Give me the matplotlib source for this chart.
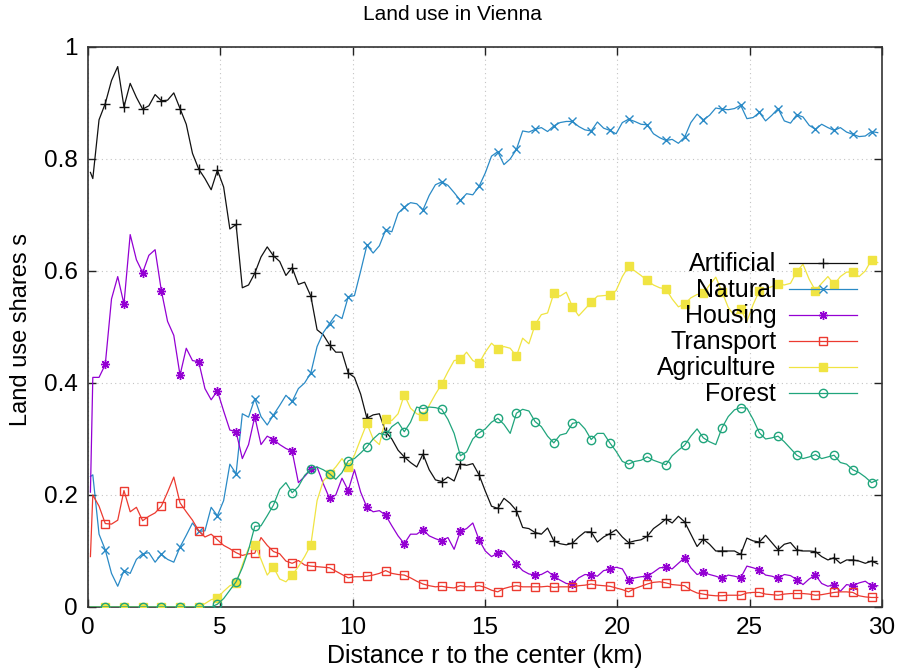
import numpy as np
import matplotlib
matplotlib.use('Agg')
import matplotlib.pyplot as plt

plt.rcParams['font.family'] = ['Liberation Sans', 'DejaVu Sans']

# ── data (distance from the center in km, shares) ──────────────────────────
x_step = 0.2353
r_km = np.concatenate([[0.1], 0.19 + x_step * np.arange(127)])

artificial = [
    0.776, 0.765, 0.870, 0.899, 0.940, 0.965, 0.893, 0.935, 0.910, 0.889,
    0.895, 0.915, 0.904, 0.905, 0.918, 0.890, 0.862, 0.810, 0.782, 0.765,
    0.745, 0.780, 0.750, 0.675, 0.683, 0.570, 0.575, 0.596, 0.625, 0.643,
    0.627, 0.617, 0.592, 0.606, 0.576, 0.580, 0.555, 0.495, 0.486, 0.468,
    0.455, 0.455, 0.418, 0.410, 0.380, 0.337, 0.343, 0.345, 0.313, 0.300,
    0.280, 0.268, 0.258, 0.250, 0.273, 0.245, 0.227, 0.224, 0.232, 0.225,
    0.255, 0.253, 0.256, 0.236, 0.207, 0.180, 0.176, 0.194, 0.185, 0.172,
    0.142, 0.140, 0.133, 0.130, 0.141, 0.118, 0.113, 0.111, 0.114, 0.125,
    0.134, 0.134, 0.116, 0.125, 0.131, 0.138, 0.125, 0.115, 0.118, 0.120,
    0.126, 0.140, 0.148, 0.157, 0.150, 0.162, 0.152, 0.130, 0.108, 0.121,
    0.112, 0.100, 0.100, 0.100, 0.100, 0.094, 0.123, 0.118, 0.116, 0.128,
    0.115, 0.102, 0.112, 0.115, 0.102, 0.100, 0.100, 0.099, 0.090, 0.084,
    0.088, 0.078, 0.084, 0.084, 0.082, 0.078, 0.082, 0.077]

natural = [
    0.233, 0.236, 0.130, 0.102, 0.060, 0.037, 0.065, 0.060, 0.085, 0.095,
    0.097, 0.080, 0.094, 0.085, 0.080, 0.107, 0.128, 0.150, 0.135, 0.136,
    0.178, 0.163, 0.190, 0.255, 0.238, 0.345, 0.339, 0.372, 0.340, 0.325,
    0.343, 0.360, 0.378, 0.367, 0.390, 0.400, 0.418, 0.465, 0.490, 0.506,
    0.522, 0.515, 0.554, 0.556, 0.600, 0.646, 0.632, 0.645, 0.673, 0.670,
    0.703, 0.714, 0.722, 0.720, 0.709, 0.735, 0.754, 0.759, 0.753, 0.740,
    0.726, 0.738, 0.736, 0.751, 0.775, 0.805, 0.813, 0.790, 0.800, 0.817,
    0.850, 0.848, 0.853, 0.856, 0.849, 0.859, 0.865, 0.867, 0.867, 0.858,
    0.852, 0.850, 0.866, 0.855, 0.851, 0.845, 0.865, 0.871, 0.867, 0.862,
    0.861, 0.845, 0.838, 0.833, 0.835, 0.828, 0.839, 0.865, 0.880, 0.870,
    0.878, 0.891, 0.889, 0.888, 0.890, 0.896, 0.872, 0.874, 0.883, 0.868,
    0.878, 0.890, 0.868, 0.864, 0.879, 0.875, 0.860, 0.853, 0.862, 0.856,
    0.851, 0.856, 0.848, 0.844, 0.840, 0.841, 0.849, 0.847]

housing = [
    0.205, 0.410, 0.410, 0.433, 0.550, 0.590, 0.541, 0.665, 0.620, 0.597,
    0.628, 0.638, 0.565, 0.510, 0.485, 0.414, 0.462, 0.440, 0.438, 0.390,
    0.370, 0.386, 0.350, 0.316, 0.313, 0.265, 0.290, 0.340, 0.290, 0.305,
    0.299, 0.290, 0.283, 0.278, 0.222, 0.233, 0.246, 0.250, 0.220, 0.194,
    0.200, 0.230, 0.208, 0.245, 0.205, 0.178, 0.170, 0.172, 0.164, 0.145,
    0.127, 0.113, 0.130, 0.130, 0.138, 0.127, 0.122, 0.118, 0.124, 0.103,
    0.135, 0.140, 0.150, 0.120, 0.100, 0.090, 0.096, 0.100, 0.088, 0.077,
    0.065, 0.059, 0.057, 0.058, 0.064, 0.055, 0.048, 0.042, 0.041, 0.052,
    0.058, 0.057, 0.055, 0.065, 0.067, 0.071, 0.068, 0.049, 0.052, 0.054,
    0.055, 0.062, 0.070, 0.071, 0.068, 0.078, 0.088, 0.070, 0.058, 0.062,
    0.058, 0.055, 0.051, 0.057, 0.055, 0.052, 0.073, 0.070, 0.066, 0.057,
    0.055, 0.051, 0.058, 0.056, 0.049, 0.040, 0.050, 0.057, 0.042, 0.037,
    0.040, 0.028, 0.040, 0.038, 0.043, 0.046, 0.038, 0.038]

transport = [
    0.090, 0.200, 0.180, 0.149, 0.148, 0.155, 0.208, 0.170, 0.178, 0.154,
    0.162, 0.168, 0.180, 0.205, 0.232, 0.186, 0.170, 0.155, 0.136, 0.125,
    0.130, 0.120, 0.110, 0.104, 0.097, 0.092, 0.095, 0.096, 0.124, 0.110,
    0.099, 0.095, 0.082, 0.078, 0.083, 0.075, 0.073, 0.072, 0.071, 0.070,
    0.064, 0.058, 0.052, 0.054, 0.054, 0.055, 0.057, 0.060, 0.065, 0.060,
    0.058, 0.057, 0.052, 0.046, 0.041, 0.038, 0.036, 0.037, 0.035, 0.034,
    0.038, 0.036, 0.036, 0.038, 0.035, 0.030, 0.027, 0.033, 0.036, 0.038,
    0.036, 0.036, 0.036, 0.036, 0.037, 0.035, 0.036, 0.036, 0.036, 0.038,
    0.039, 0.041, 0.039, 0.038, 0.037, 0.034, 0.031, 0.027, 0.033, 0.037,
    0.041, 0.044, 0.045, 0.043, 0.040, 0.039, 0.038, 0.030, 0.025, 0.023,
    0.021, 0.020, 0.020, 0.021, 0.021, 0.021, 0.025, 0.026, 0.026, 0.023,
    0.022, 0.021, 0.023, 0.024, 0.024, 0.024, 0.023, 0.021, 0.022, 0.024,
    0.026, 0.027, 0.027, 0.026, 0.020, 0.018, 0.017, 0.017]

agriculture = [
    0.000, 0.000, 0.000, 0.000, 0.000, 0.000, 0.000, 0.000, 0.000, 0.000,
    0.000, 0.000, 0.000, 0.000, 0.000, 0.000, 0.000, 0.000, 0.000, 0.006,
    0.013, 0.016, 0.028, 0.038, 0.042, 0.075, 0.105, 0.111, 0.085, 0.057,
    0.071, 0.050, 0.045, 0.057, 0.072, 0.090, 0.111, 0.190, 0.225, 0.238,
    0.250, 0.265, 0.250, 0.271, 0.300, 0.328, 0.300, 0.290, 0.335, 0.333,
    0.345, 0.379, 0.355, 0.345, 0.341, 0.360, 0.380, 0.398, 0.420, 0.440,
    0.442, 0.455, 0.440, 0.435, 0.455, 0.471, 0.461, 0.465, 0.462, 0.448,
    0.480, 0.470, 0.504, 0.522, 0.525, 0.560, 0.555, 0.562, 0.536, 0.520,
    0.532, 0.544, 0.555, 0.556, 0.557, 0.565, 0.590, 0.608, 0.600, 0.592,
    0.583, 0.575, 0.570, 0.568, 0.550, 0.536, 0.541, 0.552, 0.558, 0.560,
    0.575, 0.589, 0.563, 0.535, 0.520, 0.532, 0.510, 0.540, 0.565, 0.568,
    0.572, 0.577, 0.575, 0.578, 0.599, 0.612, 0.585, 0.565, 0.578, 0.590,
    0.576, 0.590, 0.598, 0.598, 0.590, 0.600, 0.620, 0.615]

forest = [
    0.000, 0.000, 0.000, 0.000, 0.000, 0.000, 0.000, 0.000, 0.000, 0.000,
    0.000, 0.000, 0.000, 0.000, 0.000, 0.000, 0.000, 0.000, 0.000, 0.000,
    0.000, 0.005, 0.015, 0.030, 0.045, 0.070, 0.102, 0.144, 0.145, 0.163,
    0.182, 0.210, 0.222, 0.204, 0.215, 0.235, 0.246, 0.250, 0.245, 0.238,
    0.228, 0.240, 0.261, 0.265, 0.275, 0.286, 0.300, 0.310, 0.307, 0.322,
    0.330, 0.313, 0.330, 0.357, 0.354, 0.357, 0.356, 0.353, 0.335, 0.310,
    0.270, 0.277, 0.300, 0.311, 0.318, 0.330, 0.337, 0.326, 0.310, 0.346,
    0.353, 0.350, 0.331, 0.322, 0.305, 0.293, 0.307, 0.310, 0.328, 0.330,
    0.318, 0.299, 0.310, 0.310, 0.293, 0.278, 0.260, 0.255, 0.260, 0.262,
    0.268, 0.262, 0.258, 0.254, 0.270, 0.280, 0.289, 0.305, 0.318, 0.302,
    0.295, 0.290, 0.320, 0.340, 0.352, 0.356, 0.355, 0.335, 0.311, 0.300,
    0.302, 0.305, 0.295, 0.283, 0.271, 0.265, 0.268, 0.272, 0.265, 0.268,
    0.271, 0.258, 0.255, 0.245, 0.240, 0.232, 0.222, 0.227]

labels = ['Artificial', 'Natural', 'Housing', 'Transport', 'Agriculture', 'Forest']
series = [artificial, natural, housing, transport, agriculture, forest]

STYLE = [
    dict(color='#111111', marker='+', ms=7.5, mew=1.0, mfc='none'),
    dict(color='#2a8ac6', marker='x', ms=5.5, mew=1.0, mfc='none'),
    dict(color='#9400d3', marker=(8, 2, 0), ms=6.5, mew=1.0, mfc='none'),
    dict(color='#ec3a30', marker='s', ms=6.0, mew=1.0, mfc='none'),
    dict(color='#f0e442', marker='s', ms=6.0, mew=1.0),
    dict(color='#20a57c', marker='o', ms=6.0, mew=1.0, mfc='none'),
]

# ── plot ────────────────────────────────────────────────────────────────────
fig = plt.figure(figsize=(9.04, 6.71), dpi=100)
ax = fig.add_axes([0.0971, 0.0954, 0.8786, 0.8346])

for lab, ys, st in zip(labels, series, STYLE):
    ax.plot(r_km, ys, lw=0.9, label=lab, markevery=(3, 3), zorder=3, **st)

ax.set_xlim(0, 30)
ax.set_ylim(0, 1)
ax.set_xticks([0, 5, 10, 15, 20, 25, 30])
ax.set_yticks([0, 0.2, 0.4, 0.6, 0.8, 1.0])
ax.set_yticklabels(['0', '0.2', '0.4', '0.6', '0.8', '1'])
ax.tick_params(direction='in', length=6, width=1.0, top=True, right=True,
               labelsize=17.5, pad=7, color='#222222')
ax.grid(True, color='#c4c4c4', lw=0.8, ls=(0, (1, 3)), zorder=0)
for sp in ax.spines.values():
    sp.set_color('#333333')
    sp.set_linewidth(1.2)

ax.set_xlabel('Distance r to the center (km)', fontsize=18)
ax.set_ylabel('Land use shares s', fontsize=17)
ax.xaxis.set_label_coords(0.5, -0.066)
ax.yaxis.set_label_coords(-0.07, 0.495)
fig.text(0.5, 1 - 14 / 671, 'Land use in Vienna', ha='center', va='center',
         fontsize=15)

leg = ax.legend(loc='upper right', bbox_to_anchor=(0.969, 0.633),
                frameon=False, markerfirst=False, fontsize=18,
                handlelength=2.75, handletextpad=0.5, labelspacing=0.08,
                borderpad=0, borderaxespad=0, markerscale=1.0)

fig.savefig('out.png', dpi=100, facecolor='white')
